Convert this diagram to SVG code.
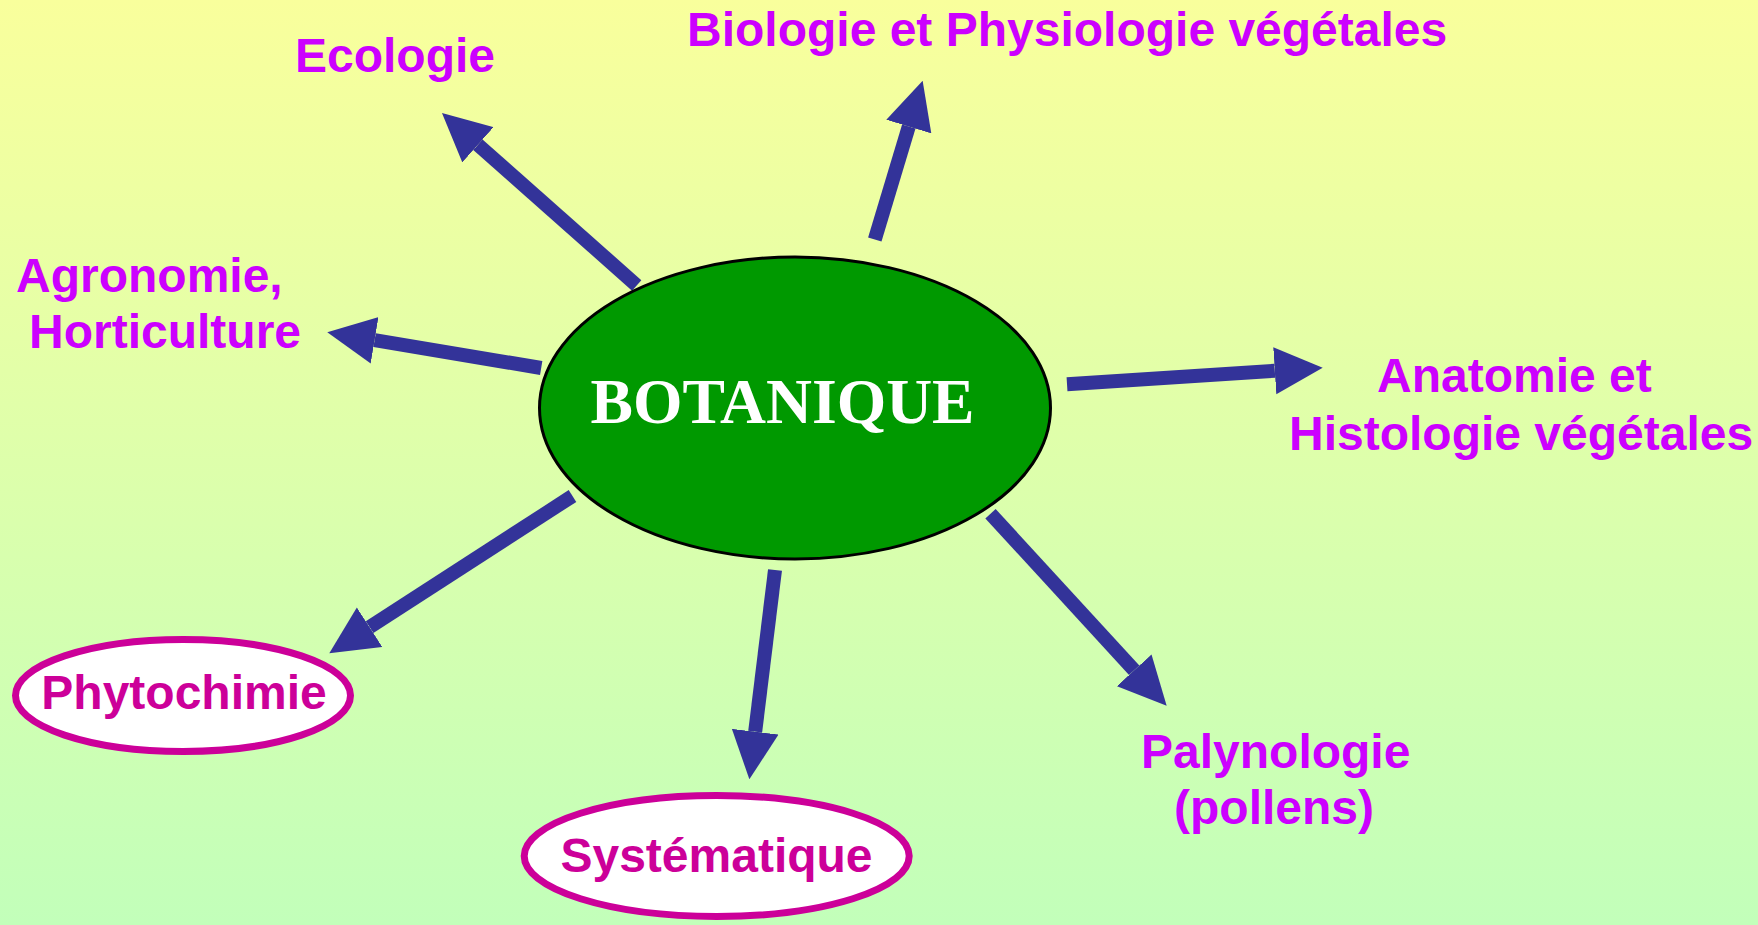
<svg xmlns="http://www.w3.org/2000/svg" width="1758" height="925" viewBox="0 0 1758 925">
<defs>
<linearGradient id="bg" x1="0" y1="0" x2="0" y2="1">
<stop offset="0" stop-color="#F9FF9C"/>
<stop offset="1" stop-color="#C2FFBA"/>
</linearGradient>
<marker id="head" markerUnits="userSpaceOnUse" viewBox="0 -24 48 48" markerWidth="48" markerHeight="48" refX="0" refY="0" orient="auto">
<path d="M0,-23.5 L48,0 L0,23.5 Z" fill="#333399"/>
</marker>
</defs>
<style>
.lbl{font-family:"Liberation Sans",Arial,sans-serif;font-weight:bold;font-size:48px;fill:#CC00FF}
.olbl{font-family:"Liberation Sans",Arial,sans-serif;font-weight:bold;font-size:48px;fill:#CC0099}
.oval{fill:#FFFFFF;stroke:#CC0099;stroke-width:7}
.conn line{stroke:#333399;stroke-width:14;marker-end:url(#head)}
</style>
<rect x="0" y="0" width="1758" height="925" fill="url(#bg)"/>
<g id="connectors" class="conn">
<line x1="636.7" y1="285.4" x2="477.9" y2="144.8"/>
<line x1="874.8" y1="239.5" x2="908.8" y2="126.6"/>
<line x1="541.2" y1="368" x2="374.6" y2="340.2"/>
<line x1="572.5" y1="496" x2="369.6" y2="627.2"/>
<line x1="775" y1="570" x2="755.2" y2="731.7"/>
<line x1="990.5" y1="513.7" x2="1134.2" y2="670.3"/>
<line x1="1067" y1="384.2" x2="1274.8" y2="370.8"/>
</g>
<g id="botanique">
<ellipse cx="795" cy="408" rx="255.5" ry="151" fill="#009900" stroke="#000000" stroke-width="3"/>
<text x="782.5" y="423" text-anchor="middle" font-family="'Liberation Serif','Times New Roman',serif" font-weight="bold" font-size="64" fill="#FFFFFF" textLength="384" lengthAdjust="spacingAndGlyphs">BOTANIQUE</text>
</g>
<g id="ecologie"><text class="lbl" x="295" y="72">Ecologie</text></g>
<g id="biologie"><text class="lbl" x="687" y="46">Biologie et Physiologie végétales</text></g>
<g id="agronomie">
<text class="lbl" x="16" y="292">Agronomie,</text>
<text class="lbl" x="29" y="348">Horticulture</text>
</g>
<g id="anatomie">
<text class="lbl" x="1377" y="392">Anatomie et</text>
<text class="lbl" x="1289" y="450">Histologie végétales</text>
</g>
<g id="palynologie">
<text class="lbl" x="1141" y="768">Palynologie</text>
<text class="lbl" x="1174" y="824">(pollens)</text>
</g>
<g id="phytochimie">
<ellipse class="oval" cx="183" cy="695.5" rx="167.5" ry="56"/>
<text class="olbl" x="184" y="709" text-anchor="middle">Phytochimie</text>
</g>
<g id="systematique">
<ellipse class="oval" cx="716.7" cy="856" rx="192.5" ry="60.5"/>
<text class="olbl" x="716.5" y="871.5" text-anchor="middle">Systématique</text>
</g>
</svg>
